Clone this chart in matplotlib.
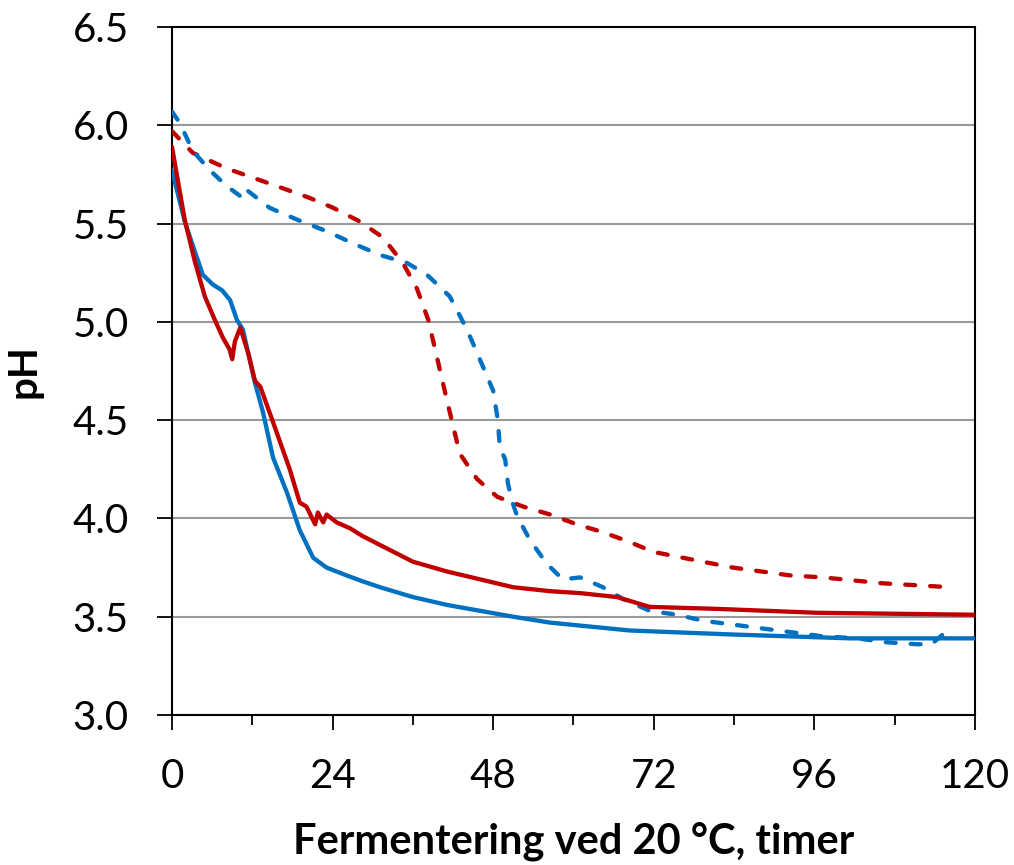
import matplotlib
matplotlib.use("Agg")
import matplotlib.pyplot as plt
from matplotlib.ticker import MultipleLocator

# pH curves during fermentation (hours, pH)
h_blue = [0, 2, 4.6, 6.1, 7.5, 8.7, 9.7, 10.6, 12.4, 13.6, 15.1, 17.2, 19.1, 21.1, 23.1,
          26.1, 28.5, 31.1, 36, 41.1, 51, 56.5, 68.4, 83.4, 101.3, 120]
ph_blue = [5.77, 5.50, 5.24, 5.19, 5.16, 5.11, 5.01, 4.96, 4.69, 4.54, 4.31, 4.13, 3.94, 3.80, 3.75,
           3.71, 3.68, 3.65, 3.60, 3.56, 3.50, 3.47, 3.43, 3.41, 3.39, 3.39]

h_red = [0, 1.9, 3.4, 4.9, 6.4, 7.6, 8.6, 9.0, 9.4, 10.2, 11.4, 12.4, 13.2, 15.1, 17.6, 19.1,
         20.1, 21.4, 21.8, 22.6, 23.1, 24.6, 26.6, 28.5, 30.8, 36, 41.1, 51, 56.5, 61, 66.5,
         71.4, 81.4, 96.4, 120]
ph_red = [5.89, 5.52, 5.31, 5.13, 5.01, 4.92, 4.86, 4.81, 4.90, 4.97, 4.84, 4.70, 4.67, 4.49, 4.25, 4.08,
          4.06, 3.97, 4.03, 3.98, 4.02, 3.98, 3.95, 3.91, 3.87, 3.78, 3.73, 3.65, 3.63, 3.62, 3.60,
          3.55, 3.54, 3.52, 3.51]

h_red_d = [0, 3.1, 8.2, 15.7, 20.6, 24.1, 28.1, 31.5, 34.5, 36.6, 38.3, 39.6, 41.1, 43, 45.6,
           48.6, 52.5, 56.5, 60.5, 64.4, 68.4, 71.9, 79.3, 83.8, 92.4, 97.3, 106.2, 116.3]
ph_red_d = [5.97, 5.86, 5.78, 5.69, 5.63, 5.58, 5.51, 5.43, 5.30, 5.17, 5.01, 4.82, 4.60, 4.33, 4.20,
            4.11, 4.06, 4.02, 3.97, 3.93, 3.88, 3.83, 3.78, 3.75, 3.71, 3.70, 3.67, 3.65]

h_blue_d = [0, 1.2, 3.1, 5.7, 8.2, 10.2, 10.8, 11.2, 14.6, 18.7, 23.2, 27, 31.1, 35.1, 38.1,
            41.5, 44.1, 46, 48, 48.7, 49, 49.8, 50.2, 50.8, 51.6, 53.5, 56, 58.4, 61, 64.4,
            67.4, 71.4, 75.5, 79.3, 83.8, 88.3, 92.8, 97.3, 102.4, 106.8, 111.3, 113.5, 115.2, 117]
ph_blue_d = [6.07, 6.01, 5.87, 5.77, 5.69, 5.64, 5.63, 5.67, 5.58, 5.52, 5.46, 5.40, 5.34, 5.30, 5.24,
             5.13, 4.96, 4.81, 4.65, 4.50, 4.36, 4.30, 4.18, 4.09, 4.01, 3.89, 3.77, 3.69, 3.70, 3.65,
             3.59, 3.53, 3.51, 3.48, 3.46, 3.44, 3.42, 3.40, 3.39, 3.37, 3.36, 3.36, 3.41, 3.41]

red = "#C00000"
blue = "#0070C0"
lw = 3.1
dash = (2.3, 3.5)

plt.rcParams["font.family"] = ["Lato", "DejaVu Sans"]

fig = plt.figure(figsize=(10.14, 8.65), dpi=100)
ax = fig.add_axes([0.1696, 0.1734, 0.7919, 0.7954])

ax.plot(h_red_d, ph_red_d, color=red, lw=lw, dashes=dash, dash_capstyle="round", zorder=3)
ax.plot(h_blue_d, ph_blue_d, color=blue, lw=lw, dashes=dash, dash_capstyle="round", zorder=3)
ax.plot(h_blue, ph_blue, color=blue, lw=lw, solid_capstyle="round", zorder=3)
ax.plot(h_red, ph_red, color=red, lw=lw, solid_capstyle="round", zorder=4)

ax.set_xlim(0, 120)
ax.set_ylim(3.0, 6.5)
ax.xaxis.set_major_locator(MultipleLocator(24))
ax.xaxis.set_minor_locator(MultipleLocator(12))
ax.yaxis.set_major_locator(MultipleLocator(0.5))
ax.yaxis.set_major_formatter(plt.FormatStrFormatter("%.1f"))

ax.grid(axis="y", color="#999999", lw=1.5, zorder=1)
for s in ax.spines.values():
    s.set_linewidth(1.5)
    s.set_color("black")

ax.tick_params(axis="both", which="major", direction="out", length=11, width=1.3,
               labelsize=29, pad=20)
ax.tick_params(axis="x", which="minor", direction="out", length=7, width=1.3)

ax.set_xlabel("Fermentering ved 20 °C, timer", fontsize=30, fontweight="bold", labelpad=20)
ax.set_ylabel("pH", fontsize=29, fontweight="bold", labelpad=22)

fig.savefig("out.png", dpi=100)
